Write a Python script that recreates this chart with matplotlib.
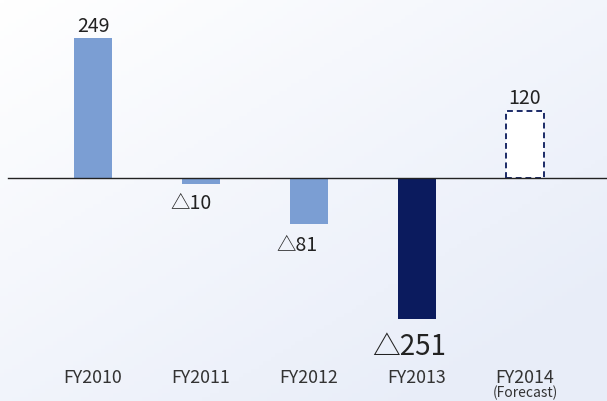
import matplotlib
matplotlib.use("Agg")
import matplotlib.pyplot as plt
import numpy as np

plt.rcParams['font.family'] = ['Noto Sans CJK JP', 'DejaVu Sans']

years = ['FY2010', 'FY2011', 'FY2012', 'FY2013', 'FY2014']
values = [249, -10, -81, -251, 120]
labels = ['249', '△10', '△81', '△251', '120']
colors = ['#7B9ED3', '#7B9ED3', '#7B9ED3', '#0B1B5E', 'white']

W, H = 607, 402
fig = plt.figure(figsize=(W / 100, H / 100), dpi=100)

# background gradient
bg = fig.add_axes([0, 0, 1, 1])
yy, xx = np.mgrid[0:1:100j, 0:1:150j]
t = np.clip(0.55 * xx + 0.6 * yy, 0, 1)
c0 = np.array([1.0, 1.0, 1.0])
c1 = np.array([0.91, 0.93, 0.975])
img = c0[None, None, :] * (1 - t[..., None]) + c1[None, None, :] * t[..., None]
bg.imshow(img, extent=[0, 1, 0, 1], aspect='auto', origin='upper')
bg.axis('off')

ax = fig.add_axes([0, 0, 1, 1])
ax.patch.set_alpha(0)
ax.axis('off')

x0, dx = 93, 108
scale = 0.5625
zero_y = 179
ax.set_xlim(-x0 / dx, (W - x0) / dx)
ax.set_ylim(-(H - zero_y) / scale, zero_y / scale)

for i, (v, c) in enumerate(zip(values, colors)):
    if i == 4:
        ax.bar(i, v, width=38 / dx, color='white', edgecolor='#1B2A66',
               linestyle=(0, (3, 2)), linewidth=1.4, zorder=2)
    else:
        ax.bar(i, v, width=38 / dx, color=c, zorder=2)

ax.axhline(0, xmin=8 / W, xmax=1, color='#222222', linewidth=1.0, zorder=3)

txt = '#222222'
# (x offset px, y offset px, fontsize) for each value label, baseline anchored
label_pos = [(0, 7, 14), (-10, -24, 14), (-12, -26, 14), (-8, -35, 20), (0, 7, 14)]
for i, (v, lab) in enumerate(zip(values, labels)):
    ox, oy, fs = label_pos[i]
    ax.annotate(lab, (i, v), xytext=(ox, oy), textcoords='offset pixels',
                ha='center', va='baseline', fontsize=fs, color=txt)

for i, yr in enumerate(years):
    ax.text(i, -(378 - zero_y) / scale, yr, ha='center', va='center',
            fontsize=12.8, color='#333333')
ax.text(4, -(393 - zero_y) / scale, '(Forecast)', ha='center', va='center',
        fontsize=10, color='#333333')

fig.savefig('out.png', dpi=100)
